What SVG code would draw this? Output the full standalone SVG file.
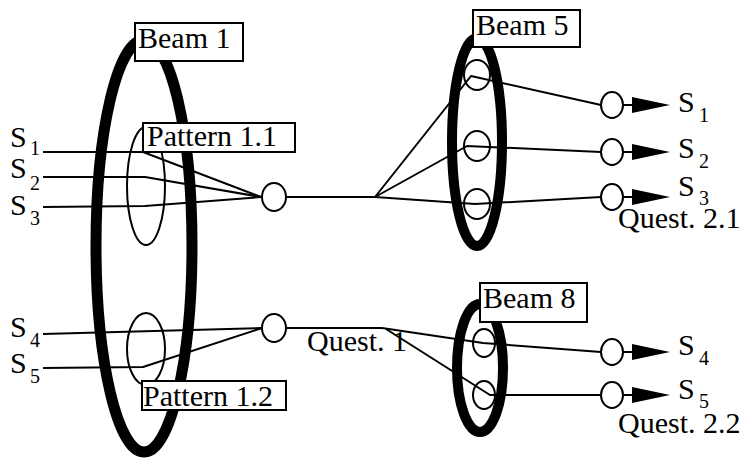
<svg xmlns="http://www.w3.org/2000/svg" width="744" height="461" viewBox="0 0 744 461">
<style>
.t{font-family:"Liberation Serif","Times New Roman",serif;font-size:30px;fill:#000}
.sub{font-size:20px}
.thin{fill:none;stroke:#000;stroke-width:2}
.beam{fill:none;stroke:#000}
.lbl{fill:#fff;stroke:#000;stroke-width:2}
.node{fill:none;stroke:#000;stroke-width:2}
.ln{fill:none;stroke:#000;stroke-width:2;stroke-linejoin:round}
.ah{fill:#000}
</style>
<rect width="744" height="461" fill="#fff"/>
<g id="beam1-ellipse"><ellipse class="beam" cx="144" cy="246" rx="48" ry="206" stroke-width="11"/></g>
<g id="beam5-ellipse"><ellipse class="beam" cx="477" cy="142" rx="25" ry="104" stroke-width="10"/></g>
<g id="beam8-ellipse"><ellipse class="beam" cx="480" cy="368" rx="23" ry="64" stroke-width="10"/></g>
<g id="pattern11-ellipse"><ellipse class="thin" cx="146" cy="186" rx="19" ry="59"/></g>
<g id="pattern12-ellipse"><ellipse class="thin" cx="146" cy="349" rx="19" ry="36"/></g>

<g id="connectors">
  <polyline class="ln" points="43,152 143,152 261,197"/>
  <polyline class="ln" points="43,177 145,177 261,197"/>
  <polyline class="ln" points="43,207 145,206 261,197"/>
  <polyline class="ln" points="43,334 262,328"/>
  <polyline class="ln" points="43,368 143,367 262,328"/>
  <line class="ln" x1="286" y1="197" x2="375" y2="197"/>
  <polyline class="ln" points="375,197 471,76 601,105"/>
  <polyline class="ln" points="375,197 467,146 601,152"/>
  <polyline class="ln" points="375,197 475,204 601,197"/>
  <line class="ln" x1="286" y1="328" x2="382" y2="328"/>
  <polyline class="ln" points="382,328 483,343 601,352"/>
  <polyline class="ln" points="386,329 490,395 601,395"/>
  <line class="ln" x1="623" y1="105" x2="634" y2="105"/>
  <line class="ln" x1="623" y1="152" x2="634" y2="152"/>
  <line class="ln" x1="623" y1="197" x2="634" y2="197"/>
  <line class="ln" x1="623" y1="352" x2="634" y2="352"/>
  <line class="ln" x1="623" y1="395" x2="634" y2="395"/>
  <polygon class="ah" points="632,97 670,105 632,113"/>
  <polygon class="ah" points="632,144 670,152 632,160"/>
  <polygon class="ah" points="632,189 670,197 632,205"/>
  <polygon class="ah" points="632,344 670,352 632,360"/>
  <polygon class="ah" points="632,387 670,395 632,403"/>
</g>

<g id="quest1"><ellipse class="node" cx="274" cy="197" rx="12" ry="14"/></g>
<g id="quest1b"><ellipse class="node" cx="274" cy="328" rx="12" ry="14"/></g>
<g id="b5c1"><ellipse class="node" cx="477" cy="75" rx="13" ry="15"/></g>
<g id="b5c2"><ellipse class="node" cx="477" cy="146" rx="13" ry="15"/></g>
<g id="b5c3"><ellipse class="node" cx="477" cy="204" rx="13" ry="15"/></g>
<g id="b8c1"><ellipse class="node" cx="484" cy="343" rx="11" ry="14"/></g>
<g id="b8c2"><ellipse class="node" cx="484" cy="395" rx="11" ry="14"/></g>
<g id="o1"><ellipse class="node" cx="612" cy="105" rx="11" ry="13"/></g>
<g id="o2"><ellipse class="node" cx="612" cy="152" rx="11" ry="13"/></g>
<g id="o3"><ellipse class="node" cx="612" cy="197" rx="11" ry="13"/></g>
<g id="o4"><ellipse class="node" cx="612" cy="352" rx="11" ry="13"/></g>
<g id="o5"><ellipse class="node" cx="612" cy="395" rx="11" ry="13"/></g>

<g id="beam1-label"><rect class="lbl" x="135" y="23" width="108" height="38"/><text class="t" x="138" y="48">Beam 1</text></g>
<g id="pattern11-label"><rect class="lbl" x="143" y="123" width="152" height="29"/><text class="t" x="147" y="146">Pattern 1.1</text></g>
<g id="pattern12-label"><rect class="lbl" x="142" y="381" width="144" height="29"/><text class="t" x="143" y="406">Pattern 1.2</text></g>
<g id="beam5-label"><rect class="lbl" x="473" y="10" width="107" height="37"/><text class="t" x="476" y="35">Beam 5</text></g>
<g id="beam8-label"><rect class="lbl" x="480" y="283" width="107" height="39"/><text class="t" x="483" y="308">Beam 8</text></g>

<g id="labels">
  <text class="t" x="10" y="147">S<tspan class="sub" x="30" y="155">1</tspan></text>
  <text class="t" x="10" y="178">S<tspan class="sub" x="30" y="190">2</tspan></text>
  <text class="t" x="10" y="215">S<tspan class="sub" x="30" y="225">3</tspan></text>
  <text class="t" x="10" y="337">S<tspan class="sub" x="30" y="347">4</tspan></text>
  <text class="t" x="10" y="373">S<tspan class="sub" x="30" y="383">5</tspan></text>
  <text class="t" x="678" y="112">S<tspan class="sub" x="699" y="122">1</tspan></text>
  <text class="t" x="678" y="158">S<tspan class="sub" x="699" y="168">2</tspan></text>
  <text class="t" x="678" y="196">S<tspan class="sub" x="699" y="205">3</tspan></text>
  <text class="t" x="678" y="355">S<tspan class="sub" x="699" y="365">4</tspan></text>
  <text class="t" x="678" y="399">S<tspan class="sub" x="699" y="408">5</tspan></text>
  <text class="t" x="618" y="228">Quest. 2.1</text>
  <text class="t" x="618" y="433">Quest. 2.2</text>
  <text class="t" x="307" y="351">Quest. 1</text>
</g>
</svg>
